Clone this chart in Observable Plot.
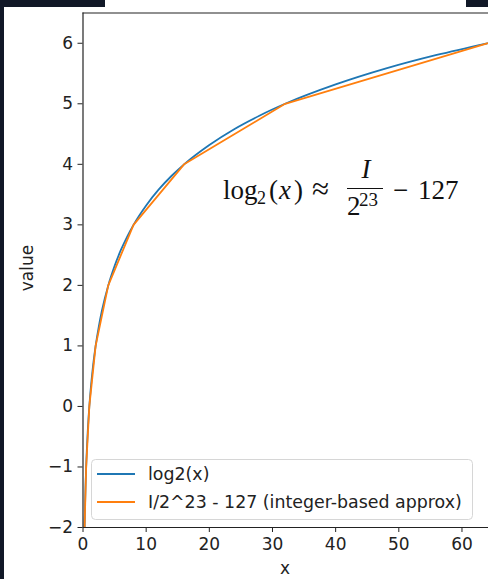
<!DOCTYPE html>
<html>
<head>
<meta charset="utf-8">
<script src="https://cdn.jsdelivr.net/npm/d3@7"></script>
<script src="https://cdn.jsdelivr.net/npm/@observablehq/plot@0.6"></script>
<style>
  html, body { margin: 0; padding: 0; }
  body { background: #111827; width: 488px; height: 579px; overflow: hidden; position: relative; }
  .paper { position: absolute; background: #ffffff; }
  #chart { position: absolute; left: 0; top: 0; }
</style>
</head>
<body>
<div class="paper" style="left:4px; top:7px; width:484px; height:572px;"></div>
<div class="paper" style="left:105px; top:0px; width:361px; height:7px;"></div>
<div id="chart"></div>
<script>
// log2(x) curve, values
const logX = [0.1, 0.2, 0.3, 0.4, 0.5, 0.75, 1, 1.5, 2, 2.5, 3, 4, 5, 6, 7, 8, 10, 12, 14, 16, 20, 24, 28, 32, 40, 48, 56, 64];
const logY = [-3.32, -2.32, -1.74, -1.32, -1, -0.415, 0, 0.585, 1, 1.32, 1.585, 2, 2.32, 2.585, 2.807, 3, 3.32, 3.585, 3.807, 4, 4.32, 4.585, 4.807, 5, 5.32, 5.585, 5.807, 6];
// integer-based approximation (piecewise linear between powers of two)
const approxX = [0.125, 0.25, 0.5, 1, 2, 4, 8, 16, 32, 64];
const approxY = [-3, -2, -1, 0, 1, 2, 3, 4, 5, 6];

const xTicks = [0, 10, 20, 30, 40, 50, 60];
const yTicks = [-2, -1, 0, 1, 2, 3, 4, 5, 6];
const seriesNames = ["log2(x)", "I/2^23 - 127 (integer-based approx)"];
const seriesColors = ["#1f77b4", "#ff7f0e"];
const xLabel = "x";
const yLabel = "value";

const logData = logX.map((x, i) => ({x, y: logY[i]}));
const approxData = approxX.map((x, i) => ({x, y: approxY[i]}));

const W = 488, H = 579;
const plot = Plot.plot({
  width: W,
  height: H,
  marginLeft: 82.5,
  marginRight: 0,
  marginTop: 12.5,
  marginBottom: 52,
  style: {background: "transparent", fontFamily: "DejaVu Sans", fontSize: "17px", color: "#222", overflow: "visible"},
  x: {domain: [0, 64.2]},
  y: {domain: [-2, 6.5]},
  marks: [
    Plot.axisX({ticks: xTicks, tickSize: 5, tickPadding: 5, label: null, tickFormat: d => String(d), fontSize: 17}),
    Plot.axisY({ticks: yTicks, tickSize: 5, tickPadding: 5, label: null, tickFormat: d => d < 0 ? "\u2212" + Math.abs(d) : String(d), fontSize: 17}),
    Plot.line(logData, {x: "x", y: "y", stroke: seriesColors[0], strokeWidth: 1.8, curve: "monotone-x", clip: true}),
    Plot.line(approxData, {x: "x", y: "y", stroke: seriesColors[1], strokeWidth: 1.8, clip: true}),
    Plot.ruleX([0], {stroke: "#222", strokeWidth: 1.2}),
    Plot.ruleY([-2, 6.5], {stroke: "#222", strokeWidth: 1.2})
  ]
});
document.getElementById("chart").appendChild(plot);

const svg = d3.select(plot);

// axis titles
svg.append("text").attr("x", 285).attr("y", 568).attr("text-anchor", "middle").attr("dy", "0.35em")
  .attr("font-family", "DejaVu Sans").attr("font-size", 17).attr("fill", "#222").text(xLabel);
svg.append("text").attr("transform", "translate(27,268) rotate(-90)").attr("text-anchor", "middle").attr("dy", "0.35em")
  .attr("font-family", "DejaVu Sans").attr("font-size", 17).attr("fill", "#222").text(yLabel);

// legend
const lg = svg.append("g").attr("text-anchor", "start");
lg.append("rect").attr("x", 91.5).attr("y", 459.5).attr("width", 381).attr("height", 60).attr("rx", 4)
  .attr("fill", "#ffffff").attr("fill-opacity", 0.8).attr("stroke", "#d6d6d6");
seriesNames.forEach((name, i) => {
  const yy = 474 + i * 28;
  lg.append("line").attr("x1", 97).attr("x2", 135).attr("y1", yy).attr("y2", yy)
    .attr("stroke", seriesColors[i]).attr("stroke-width", 1.8);
  lg.append("text").attr("x", 148).attr("y", yy).attr("dy", "0.35em").attr("text-anchor", "start")
    .attr("font-family", "DejaVu Sans").attr("font-size", 17.4).attr("fill", "#222").text(name);
});

// formula annotation
const fg = svg.append("g").attr("font-family", "Liberation Serif").attr("fill", "#111");
const piece = (t, x, y, size, italic, anchor) => fg.append("text").attr("x", x).attr("y", y)
  .attr("font-size", size).attr("font-style", italic ? "italic" : "normal")
  .attr("text-anchor", anchor || "start").text(t);
piece("log", 223, 199, 27);
piece("2", 257, 204, 18);
piece("(", 269, 199, 27);
piece("x", 279, 199, 27, true);
piece(")", 294, 199, 27);
piece("\u2248", 312, 199, 31);
piece("I", 366, 178, 27, true, "middle");
fg.append("line").attr("x1", 347).attr("x2", 383).attr("y1", 188.5).attr("y2", 188.5).attr("stroke", "#111").attr("stroke-width", 1.1);
piece("2", 347, 215, 27);
piece("23", 359, 206, 19);
piece("\u2212", 393, 199, 27);
piece("127", 418, 199, 27);
</script>
</body>
</html>
